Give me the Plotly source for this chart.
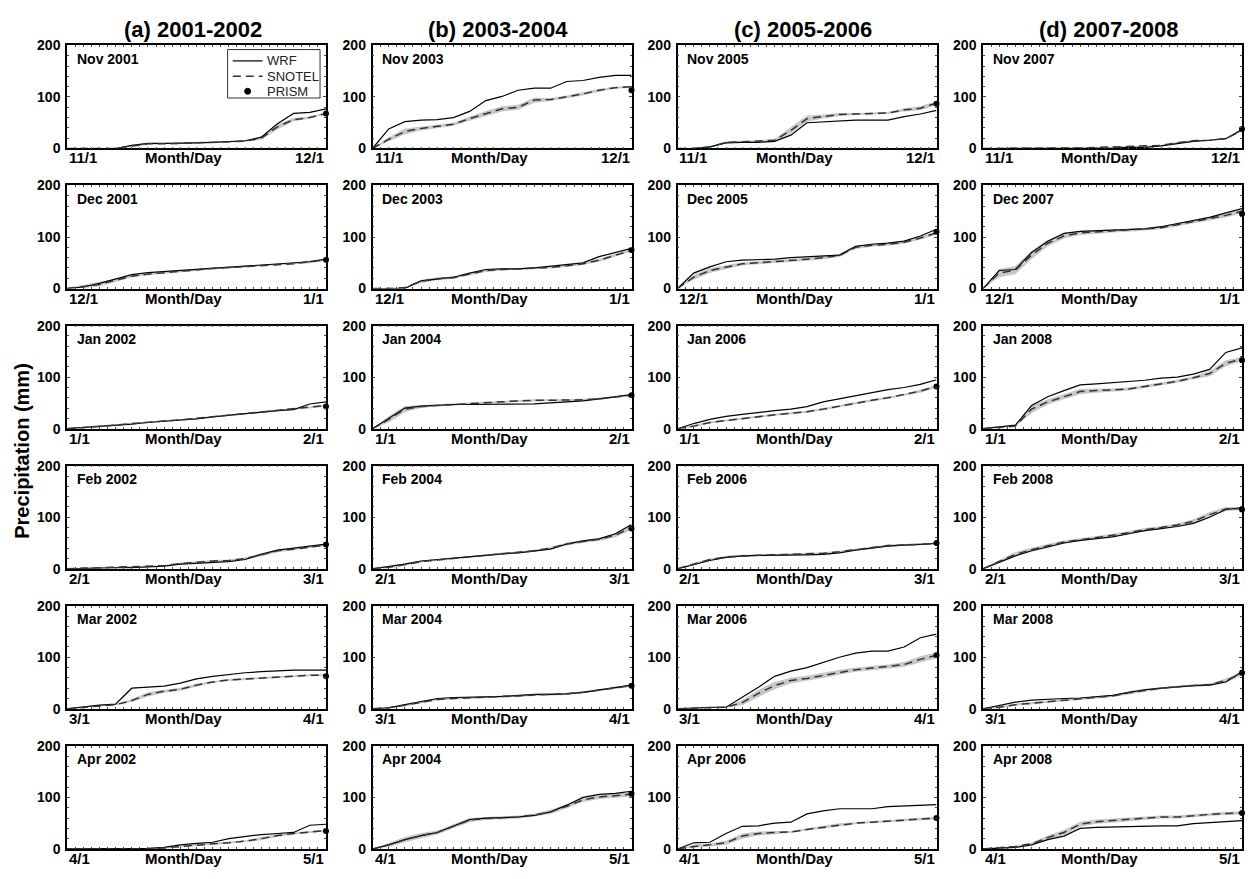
import plotly.graph_objects as go

# page is 1258 x 879; the browser body keeps an 8 px margin, so the figure is 16 px smaller
PAGE_W, PAGE_H = 1258, 879
PAD = 8
W, H = PAGE_W - 2 * PAD, PAGE_H - 2 * PAD

COL_TITLES = ["(a) 2001-2002", "(b) 2003-2004", "(c) 2005-2006", "(d) 2007-2008"]
MONTHS = ["Nov", "Dec", "Jan", "Feb", "Mar", "Apr"]
START_TICK = ["11/1", "12/1", "1/1", "2/1", "3/1", "4/1"]
END_TICK = ["12/1", "1/1", "2/1", "3/1", "4/1", "5/1"]
FIRST_YEAR = [2001, 2003, 2005, 2007]

# sample index through each month (about every two days), 0 = first day, 16 = first of next month
STEPS = list(range(17))

# ---- column (a) 2001-2002 ----
WRF_A = [
    [0, 0, 0, 0, 6, 10, 10, 10, 11, 12, 14, 15, 22, 48, 68, 70, 77],
    [0, 3, 10, 18, 27, 31, 33, 36, 38, 40, 42, 44, 46, 48, 49, 52, 57],
    [0, 2, 4, 6, 9, 12, 14, 16, 19, 23, 26, 29, 33, 35, 37, 48, 52],
    [0, 1, 1, 2, 2, 3, 5, 9, 11, 12, 14, 18, 28, 36, 40, 45, 48],
    [0, 4, 7, 9, 40, 42, 44, 50, 58, 63, 67, 70, 72, 74, 75, 75, 75],
    [0, 0, 0, 0, 0, 1, 3, 8, 11, 13, 20, 24, 28, 30, 32, 46, 48],
]
SNOTEL_A = [
    [0, 0, 0, 0, 5, 9, 9, 10, 11, 11, 13, 14, 20, 42, 56, 60, 68],
    [0, 4, 8, 16, 24, 28, 31, 34, 37, 39, 41, 43, 44, 46, 48, 52, 56],
    [0, 2, 5, 7, 10, 13, 15, 17, 20, 23, 26, 29, 33, 36, 38, 41, 45],
    [0, 1, 1, 2, 3, 4, 6, 10, 13, 15, 16, 20, 27, 35, 38, 42, 46],
    [0, 3, 6, 8, 16, 28, 34, 38, 46, 52, 56, 58, 60, 62, 64, 65, 65],
    [0, 0, 0, 0, 0, 0, 2, 5, 8, 10, 12, 15, 20, 26, 30, 33, 36],
]
BAND_A = [
    [0, 0, 0, 0, 2, 2, 1, 1, 1, 1, 1, 1, 3, 5, 3, 2, 2],
    [1, 3, 4, 3, 2, 2, 2, 2, 2, 2, 2, 2, 2, 2, 2, 3, 2],
    [1, 1, 1, 1, 1, 1, 1, 1, 1, 1, 1, 1, 1, 1, 1, 2, 2],
    [1, 1, 1, 1, 1, 1, 1, 2, 2, 2, 2, 2, 3, 3, 2, 2, 2],
    [1, 1, 1, 1, 3, 4, 3, 3, 3, 2, 2, 2, 2, 2, 2, 2, 2],
    [0, 0, 0, 0, 0, 0, 1, 2, 2, 2, 2, 2, 3, 3, 2, 2, 2],
]
PRISM_A = [68, 56, 43, 47, 63, 35]

# ---- column (b) 2003-2004 ----
WRF_B = [
    [0, 38, 52, 55, 56, 60, 72, 93, 101, 113, 117, 117, 130, 132, 138, 142, 142],
    [0, 0, 0, 15, 19, 22, 30, 37, 38, 38, 40, 43, 46, 50, 62, 70, 78],
    [0, 20, 40, 44, 46, 47, 47, 47, 47, 47, 48, 50, 52, 54, 58, 62, 66],
    [0, 4, 9, 15, 18, 20, 23, 26, 29, 31, 34, 38, 48, 54, 58, 68, 86],
    [0, 2, 8, 14, 20, 22, 22, 23, 24, 26, 28, 28, 29, 32, 37, 41, 46],
    [0, 8, 18, 26, 32, 45, 57, 60, 61, 62, 65, 72, 85, 100, 106, 108, 112],
]
SNOTEL_B = [
    [0, 18, 33, 39, 43, 47, 58, 68, 77, 80, 94, 95, 100, 106, 113, 118, 120],
    [0, 0, 2, 14, 19, 21, 28, 35, 37, 38, 39, 41, 44, 48, 55, 65, 74],
    [0, 18, 38, 43, 45, 47, 49, 51, 52, 54, 55, 55, 55, 56, 58, 62, 65],
    [0, 3, 8, 14, 17, 20, 23, 27, 30, 32, 35, 40, 48, 53, 57, 65, 80],
    [0, 2, 7, 13, 18, 20, 21, 22, 23, 25, 27, 28, 29, 32, 36, 40, 45],
    [0, 8, 18, 26, 32, 44, 56, 59, 61, 62, 66, 72, 83, 95, 101, 103, 106],
]
BAND_B = [
    [0, 4, 6, 4, 3, 3, 4, 5, 5, 5, 5, 3, 3, 3, 3, 2, 2],
    [0, 0, 1, 3, 3, 2, 3, 3, 2, 2, 2, 2, 2, 2, 3, 3, 2],
    [0, 6, 6, 3, 2, 2, 2, 2, 2, 2, 2, 2, 2, 2, 2, 2, 2],
    [0, 2, 2, 2, 2, 2, 2, 2, 2, 2, 2, 2, 3, 3, 3, 4, 5],
    [0, 1, 2, 2, 2, 2, 2, 2, 2, 2, 2, 2, 2, 2, 2, 2, 2],
    [0, 4, 5, 5, 4, 4, 4, 3, 3, 3, 3, 4, 4, 4, 4, 4, 4],
]
PRISM_B = [113, 75, 65, 78, 45, 107]

# ---- column (c) 2005-2006 ----
WRF_C = [
    [0, 0, 3, 11, 12, 12, 14, 26, 50, 52, 54, 55, 55, 55, 62, 67, 74],
    [0, 30, 42, 52, 55, 56, 57, 60, 62, 64, 65, 82, 86, 88, 92, 102, 115],
    [0, 10, 18, 24, 28, 32, 35, 38, 43, 52, 58, 63, 70, 76, 80, 86, 95],
    [0, 8, 16, 22, 25, 26, 26, 27, 27, 28, 31, 36, 40, 44, 46, 47, 49],
    [0, 2, 3, 3, 22, 42, 63, 73, 80, 90, 100, 108, 112, 112, 120, 138, 145],
    [0, 12, 13, 30, 44, 45, 50, 52, 68, 74, 78, 78, 78, 82, 83, 85, 86],
]
SNOTEL_C = [
    [0, 0, 3, 12, 13, 14, 16, 35, 58, 62, 66, 67, 68, 69, 75, 78, 88],
    [0, 22, 35, 42, 48, 50, 52, 54, 57, 60, 64, 80, 84, 86, 90, 98, 108],
    [0, 5, 12, 16, 20, 24, 27, 30, 33, 38, 44, 50, 55, 60, 66, 73, 82],
    [0, 9, 18, 23, 25, 26, 27, 28, 28, 30, 33, 37, 41, 45, 46, 47, 49],
    [0, 1, 2, 3, 12, 30, 45, 55, 59, 65, 71, 76, 79, 82, 86, 96, 104],
    [0, 5, 8, 12, 25, 30, 32, 33, 38, 42, 47, 50, 52, 54, 56, 58, 60],
]
BAND_C = [
    [0, 0, 1, 2, 2, 2, 3, 6, 6, 4, 3, 2, 2, 2, 3, 4, 4],
    [0, 5, 5, 4, 3, 3, 3, 3, 3, 3, 3, 3, 3, 3, 3, 3, 3],
    [1, 2, 2, 2, 2, 2, 2, 2, 2, 2, 2, 2, 2, 2, 2, 3, 3],
    [0, 2, 2, 2, 2, 2, 2, 2, 2, 2, 2, 2, 2, 2, 2, 2, 2],
    [0, 1, 1, 1, 5, 7, 7, 6, 5, 5, 5, 4, 4, 4, 5, 6, 6],
    [0, 3, 3, 4, 5, 4, 3, 2, 2, 3, 3, 2, 2, 2, 2, 3, 3],
]
PRISM_C = [87, 110, 82, 50, 104, 60]

# ---- column (d) 2007-2008 ----
WRF_D = [
    [0, 0, 0, 0, 0, 0, 0, 1, 1, 2, 2, 5, 10, 14, 16, 19, 37],
    [0, 35, 37, 70, 92, 107, 111, 112, 113, 114, 116, 120, 126, 132, 138, 147, 155],
    [0, 4, 7, 45, 62, 74, 85, 87, 89, 91, 94, 98, 100, 106, 115, 148, 157],
    [0, 12, 25, 35, 42, 50, 55, 58, 62, 68, 74, 78, 82, 88, 100, 115, 118],
    [0, 6, 13, 17, 19, 20, 21, 23, 26, 32, 37, 40, 43, 45, 46, 52, 72],
    [0, 1, 3, 8, 18, 25, 40, 42, 43, 43, 44, 45, 45, 49, 51, 53, 55],
]
SNOTEL_D = [
    [0, 0, 0, 0, 0, 0, 1, 2, 3, 4, 4, 6, 11, 15, 16, 19, 35],
    [0, 30, 36, 65, 88, 102, 108, 110, 112, 113, 115, 118, 124, 130, 136, 142, 150],
    [0, 3, 5, 38, 52, 62, 72, 74, 75, 77, 82, 87, 92, 99, 107, 127, 135],
    [0, 14, 28, 37, 44, 52, 56, 60, 65, 70, 76, 80, 85, 92, 105, 116, 117],
    [0, 3, 8, 11, 14, 17, 19, 22, 25, 31, 36, 40, 43, 45, 47, 55, 68],
    [0, 2, 5, 10, 22, 32, 48, 53, 55, 58, 60, 62, 62, 65, 67, 69, 70],
]
BAND_D = [
    [0, 0, 0, 0, 0, 0, 1, 1, 1, 1, 1, 1, 2, 2, 1, 1, 2],
    [0, 8, 8, 8, 6, 5, 4, 3, 3, 3, 3, 3, 3, 3, 3, 4, 4],
    [0, 1, 1, 8, 5, 5, 5, 4, 3, 3, 3, 3, 3, 3, 5, 6, 4],
    [0, 3, 4, 4, 4, 3, 3, 3, 3, 3, 3, 3, 3, 4, 5, 4, 3],
    [0, 2, 2, 2, 2, 2, 2, 2, 2, 3, 3, 2, 2, 2, 2, 4, 4],
    [0, 1, 1, 2, 4, 5, 5, 4, 4, 4, 3, 3, 3, 3, 3, 3, 3],
]
PRISM_D = [38, 145, 133, 115, 70, 70]

WRF = [WRF_A, WRF_B, WRF_C, WRF_D]
SNOTEL = [SNOTEL_A, SNOTEL_B, SNOTEL_C, SNOTEL_D]
BAND = [BAND_A, BAND_B, BAND_C, BAND_D]
PRISM = [PRISM_A, PRISM_B, PRISM_C, PRISM_D]

# ---- layout geometry (page pixels) ----
COL_LEFT = [67, 372.5, 677.5, 983]
PANEL_W = 259
ROW_TOP = [38, 180.7, 323.5, 466.2, 608.9, 751.7]
PANEL_H = 105


def fx(px):
    return (px - PAD) / W


def fy(py):
    return 1 - (py - PAD) / H


FONT = "Liberation Sans, Arial, sans-serif"

fig = go.Figure()
layout = dict(
    width=W, height=H, margin=dict(l=0, r=0, t=0, b=0),
    paper_bgcolor="white", plot_bgcolor="white", showlegend=False,
)
annotations = []
shapes = []

for c in range(4):
    for r in range(6):
        i = r * 4 + c + 1
        xa = "x" if i == 1 else f"x{i}"
        ya = "y" if i == 1 else f"y{i}"
        xkey = "xaxis" if i == 1 else f"xaxis{i}"
        ykey = "yaxis" if i == 1 else f"yaxis{i}"
        layout[xkey] = dict(
            domain=[fx(COL_LEFT[c]), fx(COL_LEFT[c] + PANEL_W)], range=[0, 16], anchor=ya,
            showticklabels=False, showgrid=False, zeroline=False,
            showline=True, linecolor="black", linewidth=1.5, mirror="allticks",
            ticks="inside", ticklen=2, tickwidth=1, tickcolor="#444", dtick=0.5,
        )
        layout[ykey] = dict(
            domain=[fy(ROW_TOP[r] + PANEL_H), fy(ROW_TOP[r])], range=[0, 200], anchor=xa,
            tickvals=[0, 100, 200], showgrid=False, zeroline=False,
            showline=True, linecolor="black", linewidth=1.5, mirror="allticks",
            ticks="inside", ticklen=3, tickwidth=1, tickcolor="#444",
            minor=dict(dtick=20, ticks="inside", ticklen=2, tickcolor="#444"),
            tickfont=dict(family=FONT, size=14, color="black", weight="bold"),
            ticklabelstandoff=2,
        )
        w = WRF[c][r]
        s = SNOTEL[c][r]
        b = BAND[c][r]
        hi = [v + d for v, d in zip(s, b)]
        lo = [max(v - d, 0) for v, d in zip(s, b)]
        fig.add_trace(go.Scatter(x=STEPS, y=hi, mode="lines", line=dict(width=0, color="#c8c8c8"),
                                 xaxis=xa, yaxis=ya, hoverinfo="skip"))
        fig.add_trace(go.Scatter(x=STEPS, y=lo, mode="lines", line=dict(width=0, color="#c8c8c8"),
                                 fill="tonexty", fillcolor="#c8c8c8",
                                 xaxis=xa, yaxis=ya, hoverinfo="skip"))
        fig.add_trace(go.Scatter(x=STEPS, y=w, mode="lines", name="WRF",
                                 line=dict(color="black", width=1.2),
                                 xaxis=xa, yaxis=ya))
        fig.add_trace(go.Scatter(x=STEPS, y=s, mode="lines", name="SNOTEL",
                                 line=dict(color="#333333", width=1.5, dash="8px,5px"),
                                 xaxis=xa, yaxis=ya))
        fig.add_trace(go.Scatter(x=[STEPS[-1]], y=[PRISM[c][r]], mode="markers", name="PRISM",
                                 marker=dict(color="black", size=6), cliponaxis=False,
                                 xaxis=xa, yaxis=ya))

        xd = f"{xa} domain"
        yd = f"{ya} domain"
        year = FIRST_YEAR[c] + (0 if r < 2 else 1)
        annotations.append(dict(text=f"<b>{MONTHS[r]} {year}</b>", xref=xd, yref=yd, x=0.03, y=0.97,
                                xanchor="left", yanchor="top", showarrow=False,
                                font=dict(family=FONT, size=14, color="black")))
        tf = dict(family=FONT, size=15, color="black")
        annotations.append(dict(text=f"<b>{START_TICK[r]}</b>", xref=xd, yref=yd, x=0.0, y=0,
                                xanchor="left", yanchor="top", showarrow=False, font=tf, yshift=1))
        annotations.append(dict(text="<b>Month/Day</b>", xref=xd, yref=yd, x=0.45, y=0,
                                xanchor="center", yanchor="top", showarrow=False, font=tf, yshift=1))
        annotations.append(dict(text=f"<b>{END_TICK[r]}</b>", xref=xd, yref=yd, x=1.0, y=0,
                                xanchor="right", yanchor="top", showarrow=False, font=tf, yshift=1))

    annotations.append(dict(text=f"<b>{COL_TITLES[c]}</b>", xref="paper", yref="paper",
                            x=fx(COL_LEFT[c] + PANEL_W / 2 - 4), y=fy(22),
                            xanchor="center", yanchor="middle", showarrow=False,
                            font=dict(family=FONT, size=22, color="black")))

annotations.append(dict(text="<b>Precipitation (mm)</b>", xref="paper", yref="paper",
                        x=fx(22), y=fy(451), textangle=-90,
                        xanchor="center", yanchor="middle", showarrow=False,
                        font=dict(family=FONT, size=20, color="black")))

# legend drawn inside the first panel
LEG_ITEMS = ["WRF", "SNOTEL", "PRISM"]
leg_y = [0.85, 0.70, 0.555]
shapes.append(dict(type="rect", xref="x domain", yref="y domain", x0=0.62, x1=0.977, y0=0.49, y1=0.96,
                   line=dict(color="#333", width=1), fillcolor="white", layer="above"))
shapes.append(dict(type="line", xref="x domain", yref="y domain", x0=0.64, x1=0.755, y0=leg_y[0], y1=leg_y[0],
                   line=dict(color="black", width=1.2), layer="above"))
shapes.append(dict(type="line", xref="x domain", yref="y domain", x0=0.64, x1=0.755, y0=leg_y[1], y1=leg_y[1],
                   line=dict(color="#333", width=1.5, dash="8px,5px"), layer="above"))
shapes.append(dict(type="circle", xref="x domain", yref="y domain", x0=-3, x1=3, y0=-3, y1=3,
                   xsizemode="pixel", ysizemode="pixel", xanchor=0.6975, yanchor=leg_y[2],
                   fillcolor="black", line=dict(color="black", width=1), layer="above"))
for name, yy in zip(LEG_ITEMS, leg_y):
    annotations.append(dict(text=name, xref="x domain", yref="y domain", x=0.765, y=yy,
                            xanchor="left", yanchor="middle", showarrow=False,
                            font=dict(family=FONT, size=13, color="#222")))

layout["annotations"] = annotations
layout["shapes"] = shapes
fig.update_layout(**layout)
fig.write_html("out.html", config={"displayModeBar": False})
